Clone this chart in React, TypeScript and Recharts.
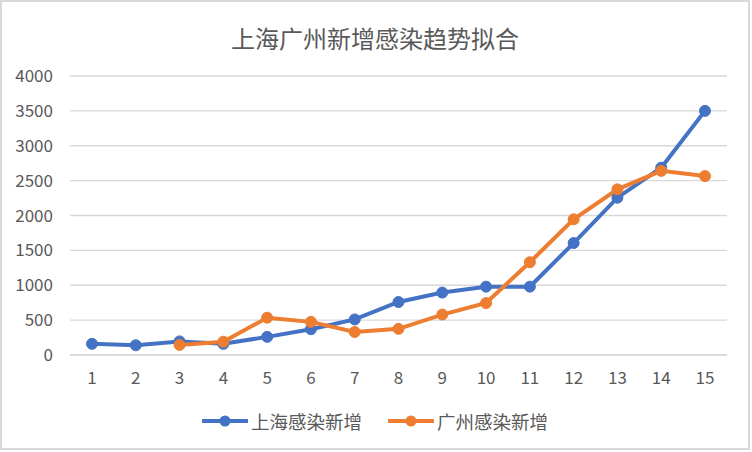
import { LineChart, Line, XAxis, YAxis, CartesianGrid } from 'recharts';

const days = ['1', '2', '3', '4', '5', '6', '7', '8', '9', '10', '11', '12', '13', '14', '15'];
const shanghai = [160, 140, 195, 160, 260, 370, 510, 760, 895, 980, 980, 1605, 2255, 2685, 3500];
const guangzhou: (number | null)[] = [null, null, 145, 190, 535, 475, 330, 375, 580, 745, 1330, 1945, 2375, 2640, 2565];
const yTicks = [0, 500, 1000, 1500, 2000, 2500, 3000, 3500, 4000];

const BLUE = '#4472C4';
const ORANGE = '#ED7D31';
const TEXT = '#595959';
const GRID = '#D9D9D9';
const FONT = '"Noto Sans CJK SC", "Noto Sans", sans-serif';

const data = days.map((d, i) => ({ day: d, sh: shanghai[i], gz: guangzhou[i] }));

const legendItems = [
  { name: '上海感染新增', color: BLUE },
  { name: '广州感染新增', color: ORANGE },
];

function LegendBox() {
  return (
    <div
      style={{
        position: 'absolute',
        top: 406,
        left: 0,
        width: 746,
        display: 'flex',
        justifyContent: 'center',
        gap: 26,
        fontFamily: FONT,
      }}
    >
      {legendItems.map((it) => (
        <div key={it.name} style={{ display: 'flex', alignItems: 'center' }}>
          <svg width={46} height={14} style={{ marginRight: 3 }}>
            <line x1={1} y1={7} x2={45} y2={7} stroke={it.color} strokeWidth={4} strokeLinecap="round" />
            <circle cx={23} cy={7} r={5.5} fill={it.color} />
          </svg>
          <span style={{ fontSize: 18.5, color: TEXT }}>{it.name}</span>
        </div>
      ))}
    </div>
  );
}

export default function App() {
  return (
    <div
      style={{
        position: 'absolute',
        left: 0,
        top: 0,
        width: 750,
        height: 450,
        border: `2px solid ${GRID}`,
        background: '#fff',
        boxSizing: 'border-box',
      }}
    >
      <div
        style={{
          position: 'absolute',
          top: 18,
          width: '100%',
          textAlign: 'center',
          fontFamily: FONT,
          fontSize: 24,
          color: TEXT,
          lineHeight: '36px',
        }}
      >
        上海广州新增感染趋势拟合
      </div>
      <LineChart
        width={746}
        height={446}
        data={data}
        margin={{ top: 74, right: 21, left: 0, bottom: 63 }}
        style={{ position: 'absolute', left: 0, top: 0, fontFamily: FONT }}
      >
        <CartesianGrid vertical={false} stroke={GRID} strokeWidth={1.3} />
        <XAxis
          dataKey="day"
          axisLine={{ stroke: GRID, strokeWidth: 1.3 }}
          tickLine={false}
          tickSize={0}
          tickMargin={17}
          height={30}
          padding={{ left: 22, right: 22 }}
          tick={{ fontSize: 17, fill: TEXT }}
        />
        <YAxis
          domain={[0, 4000]}
          ticks={yTicks}
          axisLine={false}
          tickLine={false}
          tickSize={0}
          tickMargin={17}
          width={68}
          tick={{ fontSize: 17, fill: TEXT }}
        />
        <Line
          type="linear"
          dataKey="sh"
          name="上海感染新增"
          stroke={BLUE}
          strokeWidth={4}
          dot={{ r: 5.5, fill: BLUE, stroke: BLUE, strokeWidth: 1 }}
          activeDot={false}
          isAnimationActive={false}
        />
        <Line
          type="linear"
          dataKey="gz"
          name="广州感染新增"
          stroke={ORANGE}
          strokeWidth={4}
          dot={{ r: 5.5, fill: ORANGE, stroke: ORANGE, strokeWidth: 1 }}
          activeDot={false}
          isAnimationActive={false}
        />
      </LineChart>
      <LegendBox />
    </div>
  );
}
